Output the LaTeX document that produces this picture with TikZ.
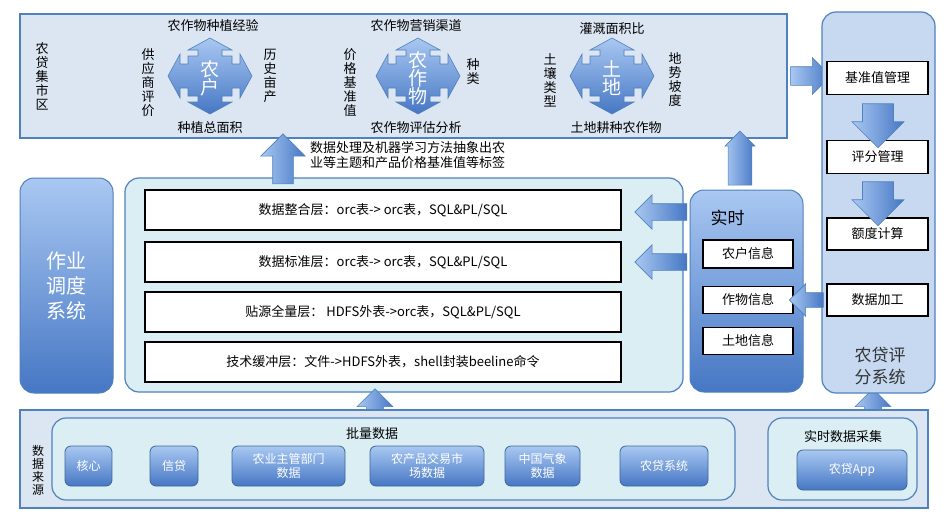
\documentclass[tikz,border=0pt]{standalone}
\usepackage{fontspec}
\setmainfont{Noto Sans CJK SC}
\usetikzlibrary{shapes.arrows}
\definecolor{bd}{HTML}{4F81BD}
\definecolor{pale}{HTML}{DCE6F2}
\definecolor{cyanf}{HTML}{DAEEF3}
\definecolor{sysf}{HTML}{C6D9F1}
\definecolor{bt}{HTML}{A9C8F2}
\definecolor{bb}{HTML}{4677C4}
\tikzset{
 x=1pt,y=-1pt,
 panel/.style={draw=bd,line width=1.5pt,fill=pale},
 rpanel/.style={draw=bd,line width=1.2pt,rounded corners=14pt},
 blu/.style={draw=bd,line width=1pt,top color=bt,bottom color=bb,rounded corners=10pt},
 wbox/.style={draw=black,line width=1.3pt,fill=white,font=\fontsize{13}{15}\selectfont},
 src/.style={draw=bd!80!black,line width=0.8pt,top color=bt,bottom color=bb,rounded corners=6pt,text=white,align=center,font=\fontsize{12}{14}\selectfont},
 barr/.style={single arrow,draw=bd,line width=0.6pt,left color=bt,right color=bb,inner xsep=0pt,single arrow head extend=9pt},
 lbl/.style={font=\fontsize{13}{15}\selectfont,inner sep=0pt},
 vl/.style={font=\fontsize{13}{14}\selectfont,align=center,inner sep=0pt},
}
\newcommand\quadarr[2]{%
 \begin{scope}[shift={(#1,#2)}]
 \draw[bd,line width=0.6pt,top color=bt,bottom color=bb]
 (22,-12)--(30,-12)--(30,-22)--(42,0)--(30,22)--(30,12)--(22,12)--(22,20)--(12,20)--(12,26)--(22,26)--(0,38)--(-22,26)--(-12,26)--(-12,20)--(-22,20)--(-22,12)--(-30,12)--(-30,22)--(-42,0)--(-30,-22)--(-30,-12)--(-22,-12)--(-22,-20)--(-12,-20)--(-12,-26)--(-22,-26)--(0,-38)--(22,-26)--(12,-26)--(12,-20)--(22,-20)--cycle;
 \end{scope}}
\begin{document}
\begin{tikzpicture}
\useasboundingbox (0,0) rectangle (947,517);
% top panel
\node[panel,minimum width=767pt,minimum height=124pt,inner sep=0pt] (top) at (403.5,76) {};
\node[vl] (t0) at (42,76) {农\\贷\\集\\市\\区};
\quadarr{210}{76}
\node[font=\fontsize{19}{22}\selectfont,text=white,align=center] (nh) at (210,78) {农\\[-4pt]户};
\node[lbl] (t1) at (213,26) {农作物种植经验};
\node[lbl] (t2) at (210,128) {种植总面积};
\node[vl] (t3) at (148,83) {供\\应\\商\\评\\价};
\node[vl] (t4) at (270,76) {历\\史\\亩\\产};
\quadarr{418}{76}
\node[font=\fontsize{19}{22}\selectfont,text=white,align=center] (nz) at (418,78) {农\\[-4pt]作\\[-4pt]物};
\node[lbl] (t5) at (416,26) {农作物营销渠道};
\node[lbl] (t6) at (416,128) {农作物评估分析};
\node[vl] (t7) at (350,83) {价\\格\\基\\准\\值};
\node[vl] (t8) at (473,72) {种\\类};
\quadarr{612}{76}
\node[font=\fontsize{19}{22}\selectfont,text=white,align=center] (nt) at (612,78) {土\\[-4pt]地};
\node[lbl] (t9) at (612,29) {灌溉面积比};
\node[lbl] (t10) at (616,128) {土地耕种农作物};
\node[vl] (t11) at (550,80) {土\\壤\\类\\型};
\node[vl] (t12) at (675,80) {地\\势\\坡\\度};
% note
\node[lbl,align=left,anchor=north west] (note) at (310,141) {数据处理及机器学习方法抽象出农\\业等主题和产品价格基准值等标签};
% scheduling
\node[blu,rounded corners=14pt,minimum width=93pt,minimum height=215pt,text=white,font=\fontsize{20}{25}\selectfont,align=center] (job) at (66.5,285.5) {作业\\调度\\系统};
% big box
\node[rpanel,fill=cyanf,minimum width=558pt,minimum height=214pt] (big) at (404,285) {};
\node[wbox,minimum width=476pt,minimum height=40pt] (l1) at (383,210) {数据整合层：orc表-> orc表，SQL\&PL/SQL};
\node[wbox,minimum width=476pt,minimum height=40pt] (l2) at (383,262) {数据标准层：orc表-> orc表，SQL\&PL/SQL};
\node[wbox,minimum width=476pt,minimum height=40pt] (l3) at (383,312) {贴源全量层： HDFS外表->orc表，SQL\&PL/SQL};
\node[wbox,minimum width=476pt,minimum height=40pt] (l4) at (383,362) {技术缓冲层：文件->HDFS外表，shell封装beeline命令};
% arrows
\node[barr,rotate=90,minimum height=50pt,minimum width=44pt,inner ysep=10pt,single arrow head extend=12pt] (u1) at (283,164) {};
\node[barr,rotate=90,minimum height=26pt,minimum width=36pt,inner ysep=8pt] (u2) at (375,406) {};
\node[barr,rotate=90,minimum height=26pt,minimum width=36pt,inner ysep=8pt] (u3) at (873,406) {};
\node[barr,rotate=90,minimum height=54pt,minimum width=30pt,inner ysep=11pt,single arrow head extend=3pt] (u4) at (740,164) {};
\node[barr,rotate=180,minimum height=52pt,minimum width=34pt,inner ysep=8pt] (w1) at (665,212) {};
\node[barr,rotate=180,minimum height=52pt,minimum width=34pt,inner ysep=8pt] (w2) at (665,262) {};
\node[barr,minimum height=40pt,minimum width=34pt,inner ysep=9pt] (e1) at (806,76) {};
% realtime
\node[blu,rounded corners=14pt,minimum width=113pt,minimum height=202pt] (rt) at (746.5,291) {};
\node[font=\fontsize{17}{20}\selectfont,anchor=west] (rtl) at (707,218) {实时};
\node[wbox,minimum width=90pt,minimum height=28pt] (i1) at (748,254) {农户信息};
\node[wbox,minimum width=90pt,minimum height=27pt] (i2) at (748,300) {作物信息};
\node[wbox,minimum width=90pt,minimum height=27pt] (i3) at (748,341) {土地信息};
% score system
\node[rpanel,fill=sysf,minimum width=113pt,minimum height=381pt] (sys) at (878.5,202.5) {};
\node[wbox,minimum width=101pt,minimum height=33pt] (s1) at (877.5,78) {基准值管理};
\node[wbox,minimum width=101pt,minimum height=33pt] (s2) at (877.5,157) {评分管理};
\node[wbox,minimum width=101pt,minimum height=32pt] (s3) at (877.5,234) {额度计算};
\node[wbox,minimum width=101pt,minimum height=32pt] (s4) at (877.5,300) {数据加工};
\node[font=\fontsize{17}{22}\selectfont,align=center,text=black!80] (sysl) at (880,366) {农贷评\\分系统};
\node[barr,rotate=-90,minimum height=44pt,minimum width=52pt,inner ysep=13pt] (d1) at (878,118) {};
\node[barr,rotate=-90,minimum height=44pt,minimum width=52pt,inner ysep=13pt] (d2) at (878,196) {};
\node[barr,rotate=180,minimum height=34pt,minimum width=30pt,inner ysep=7pt] (w3) at (810,300) {};
% bottom
\node[panel,minimum width=908pt,minimum height=98pt,inner sep=0pt,line width=1.2pt] (bot) at (474,459) {};
\node[vl,font=\fontsize{12}{13}\selectfont] (src0) at (38,470) {数\\据\\来\\源};
\node[rpanel,fill=cyanf,minimum width=683pt,minimum height=82pt] (batch) at (393.5,459) {};
\node[lbl] (bl) at (372,434) {批量数据};
\node[src,minimum width=47pt,minimum height=40pt] (a1) at (88.5,466) {核心};
\node[src,minimum width=48pt,minimum height=40pt] (a2) at (174,466) {信贷};
\node[src,minimum width=113pt,minimum height=40pt] (a3) at (288.5,466) {农业主管部门\\数据};
\node[src,minimum width=114pt,minimum height=40pt] (a4) at (427,466) {农产品交易市\\场数据};
\node[src,minimum width=75pt,minimum height=40pt] (a5) at (542.5,466) {中国气象\\数据};
\node[src,minimum width=88pt,minimum height=40pt] (a6) at (664,466) {农贷系统};
\node[rpanel,fill=cyanf,minimum width=149pt,minimum height=82pt] (rtc) at (842.5,459) {};
\node[lbl] (rl) at (843,437) {实时数据采集};
\node[src,minimum width=110pt,minimum height=40pt] (app) at (852,470) {农贷App};
\end{tikzpicture}
\end{document}
